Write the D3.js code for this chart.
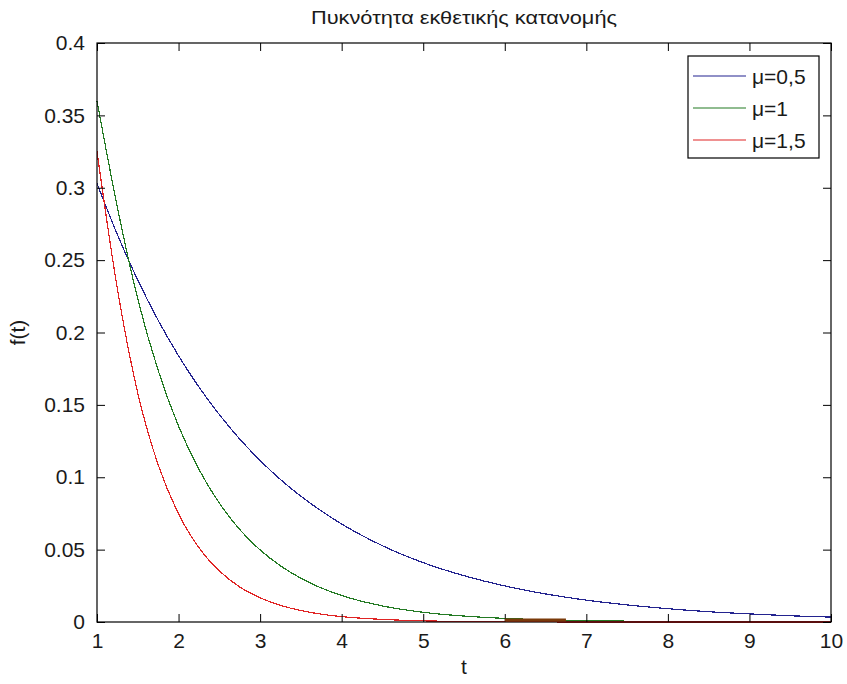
<!DOCTYPE html>
<html>
<head>
<meta charset="utf-8">
<title>Πυκνότητα εκθετικής κατανομής</title>
<script src="https://d3js.org/d3.v7.min.js"></script>
<style>
  body { margin: 0; background: #fff; }
  svg text { font-family: "Liberation Sans", Arial, sans-serif; fill: #1a1a1a; }
  .curve { fill: none; stroke-width: 1.2; shape-rendering: crispEdges; }
</style>
</head>
<body>
<svg id="chart" width="847" height="684"></svg>
<script>
// values
var tValues = [1, 1.25, 1.5, 1.75, 2, 2.25, 2.5, 2.75, 3, 3.25, 3.5, 3.75, 4,
               4.5, 5, 5.5, 6, 6.5, 7, 7.5, 8, 8.5, 9, 9.5, 10];
var mu05 = [0.303, 0.2676, 0.2362, 0.2084, 0.1839, 0.1623, 0.1433, 0.1264, 0.1116, 0.0984, 0.0869, 0.0767, 0.0677,
            0.0527, 0.041, 0.032, 0.0249, 0.0194, 0.0151, 0.0118, 0.0092, 0.0071, 0.0056, 0.0043, 0.0034];
var mu1 = [0.36, 0.2865, 0.2231, 0.1738, 0.1353, 0.1054, 0.0821, 0.0639, 0.0498, 0.0388, 0.0302, 0.0235, 0.0183,
           0.0111, 0.0067, 0.0041, 0.0025, 0.0015, 0.0009, 0.0006, 0.0003, 0.0002, 0.0001, 0.0001, 0];
var mu15 = [0.325, 0.2301, 0.1581, 0.1086, 0.0747, 0.0513, 0.0353, 0.0242, 0.0167, 0.0115, 0.0079, 0.0054, 0.0037,
            0.0018, 0.0008, 0.0004, 0.0002, 0.0001, 0, 0, 0, 0, 0, 0, 0];
// short brown mark sitting on the axis
var strayT = [6, 6.75];
var strayY = [0.0013, 0.0013];

var seriesNames = ["μ=0,5", "μ=1", "μ=1,5"];
var seriesColors = ["#23238f", "#237a23", "#e02424"];
var xTicks = [1, 2, 3, 4, 5, 6, 7, 8, 9, 10];
var yTicks = [0, 0.05, 0.1, 0.15, 0.2, 0.25, 0.3, 0.35, 0.4];

var titleText = "Πυκνότητα εκθετικής κατανομής";

var box = {left: 97, right: 831, top: 43, bottom: 622};
var tickLen = 8;

var svg = d3.select("#chart");

var x = d3.scaleLinear().domain([1, 10]).range([box.left, box.right]);
var y = d3.scaleLinear().domain([0, 0.4]).range([box.bottom, box.top]);

var allSeries = [mu05, mu1, mu15];

var line = d3.line()
    .x(function(d) { return x(d[0]); })
    .y(function(d) { return y(d[1]); })
    .curve(d3.curveMonotoneX);

// curves
allSeries.forEach(function(vals, i) {
  svg.append("path")
    .attr("class", "curve")
    .attr("stroke", seriesColors[i])
    .attr("d", line(d3.zip(tValues, vals)));
});

// axes (ticks inside, mirrored on top and right)
var fmtY = function(d) { return d === 0 ? "0" : d3.format("~g")(d); };

svg.append("g")
  .attr("transform", "translate(0," + box.bottom + ")")
  .call(d3.axisBottom(x).tickValues(xTicks).tickSizeInner(-tickLen).tickSizeOuter(0).tickPadding(11).tickFormat(d3.format("d")));
svg.append("g")
  .attr("transform", "translate(0," + box.top + ")")
  .call(d3.axisTop(x).tickValues(xTicks).tickSizeInner(-tickLen).tickSizeOuter(0).tickFormat(""));
svg.append("g")
  .attr("transform", "translate(" + box.left + ",0)")
  .call(d3.axisLeft(y).tickValues(yTicks).tickSizeInner(-tickLen).tickSizeOuter(0).tickPadding(12).tickFormat(fmtY));
svg.append("g")
  .attr("transform", "translate(" + box.right + ",0)")
  .call(d3.axisRight(y).tickValues(yTicks).tickSizeInner(-tickLen).tickSizeOuter(0).tickFormat(""));

svg.selectAll(".domain").remove();
svg.selectAll(".tick line").attr("stroke", "#000");
svg.selectAll(".tick text").attr("font-size", 21).attr("fill", "#1a1a1a");

svg.append("rect")
  .attr("x", box.left).attr("y", box.top)
  .attr("width", box.right - box.left).attr("height", box.bottom - box.top)
  .attr("fill", "none").attr("stroke", "#000").attr("stroke-width", 1.2);

svg.append("path")
  .attr("fill", "none")
  .attr("stroke", "#7a3a0a")
  .attr("stroke-width", 3)
  .attr("d", line(d3.zip(strayT, strayY)));

// title and labels
svg.append("text")
  .attr("x", (box.left + box.right) / 2).attr("y", 24)
  .attr("text-anchor", "middle").attr("font-size", 19)
  .attr("textLength", 306).attr("lengthAdjust", "spacingAndGlyphs")
  .text(titleText);

svg.append("text")
  .attr("x", (box.left + box.right) / 2).attr("y", 674)
  .attr("text-anchor", "middle").attr("font-size", 21)
  .text("t");

svg.append("text")
  .attr("transform", "translate(25," + ((box.top + box.bottom) / 2) + ") rotate(-90)")
  .attr("text-anchor", "middle").attr("font-size", 21)
  .text("f(t)");

// legend
var lg = svg.append("g");
lg.append("rect")
  .attr("x", 688).attr("y", 56).attr("width", 131).attr("height", 102)
  .attr("fill", "#fff").attr("stroke", "#000").attr("stroke-width", 1.2);

seriesNames.forEach(function(name, i) {
  var ry = 76 + i * 32;
  lg.append("line")
    .attr("x1", 693).attr("x2", 746).attr("y1", ry).attr("y2", ry)
    .attr("stroke", seriesColors[i]).attr("stroke-width", 1.2);
  lg.append("text")
    .attr("x", 752).attr("y", ry).attr("dy", "0.36em")
    .attr("font-size", 21)
    .text(name);
});
</script>
</body>
</html>
